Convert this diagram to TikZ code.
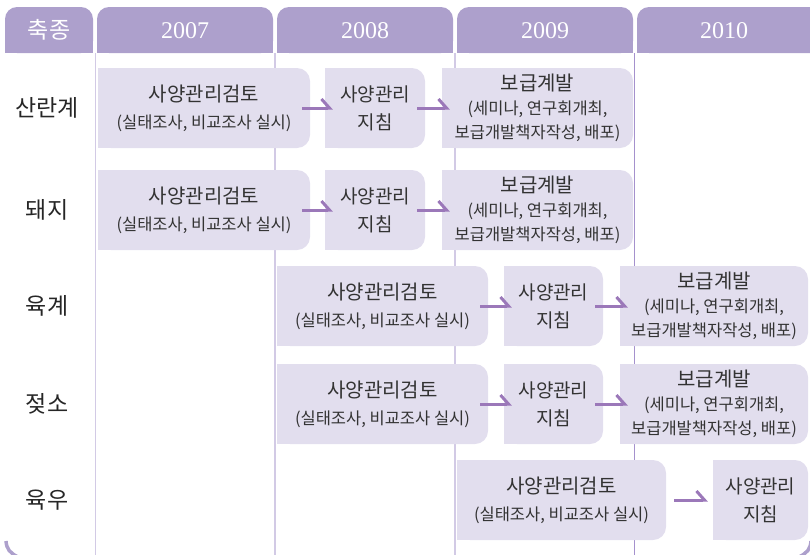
\documentclass[tikz,border=0pt]{standalone}
\usepackage{fontspec}
\setmainfont{Liberation Serif}
\newfontfamily\kr{Noto Sans CJK KR}
\usetikzlibrary{arrows.meta}
\definecolor{hdr}{HTML}{ADA0CC}
\definecolor{boxc}{HTML}{E2DEEE}
\definecolor{lline}{HTML}{D2CAE5}
\definecolor{dline}{HTML}{A591CD}
\definecolor{arr}{HTML}{9B78B9}
\definecolor{txt}{HTML}{333333}
\pgfdeclarelayer{bg}
\pgfsetlayers{bg,main}
\begin{document}
\begin{tikzpicture}[x=1pt,y=-1pt,
  tabfill/.style={fill=hdr, rounded corners=12pt},
  hd/.style={text=white, inner sep=0pt},
  yr/.style={hd, font=\fontsize{24}{24}\selectfont},
  rowlab/.style={text=black!85, font=\kr\fontsize{23}{23}\selectfont, inner sep=0pt},
  bx/.style={fill=boxc, rounded corners=13pt, minimum height=80pt, inner sep=0pt, text=txt, align=center},
  bxa/.style={bx, font=\kr\fontsize{16.5}{27}\selectfont},
  bxb/.style={bx, font=\kr\fontsize{19}{28}\selectfont},
  bxc/.style={bx, font=\kr\fontsize{16.5}{24}\selectfont},
  harp/.style={draw=arr, line width=3pt, -{Straight Barb[left, length=8pt, width=18pt]}, shorten <=-8pt, shorten >=-8pt}
]
\useasboundingbox (0,0) rectangle (810,554);
% header tabs
\foreach \a/\b in {5/93, 97/273, 277/453, 457/633, 637/840}{
  \fill[tabfill] (\a,7) rectangle (\b,53);
  \fill[hdr] (\a,30) rectangle (\b,53);
}
\node[hd, font=\kr\fontsize{23}{23}\selectfont] (h0) at (49,30) {축종};
\node[yr] (h1) at (185,31) {2007};
\node[yr] (h2) at (365,31) {2008};
\node[yr] (h3) at (545,31) {2009};
\node[yr] (h4) at (724,31) {2010};
% grid lines
\begin{pgfonlayer}{bg}
\foreach \x in {95.5, 275, 455}{ \draw[lline, line width=1.4pt] (\x,53) -- (\x,556); }
\draw[dline, line width=1.8pt] (634.5,53) -- (634.5,556);
\end{pgfonlayer}
% row labels
\node[rowlab] (r1) at (47,108) {산란계};
\node[rowlab] (r2) at (47,210) {돼지};
\node[rowlab] (r3) at (47,306) {육계};
\node[rowlab] (r4) at (47,404) {젖소};
\node[rowlab] (r5) at (47,500) {육우};
% row 1
\node[bxa, minimum width=212pt] (a1) at (204,108) {{\fontsize{20}{20}\selectfont 사양관리검토}\\(실태조사, 비교조사 실시)};
\node[bxb, minimum width=100pt] (b1) at (375,108) {사양관리\\지침};
\node[bxc, minimum width=191pt] (c1) at (537.5,108) {{\fontsize{20}{20}\selectfont 보급계발}\\(세미나, 연구회개최,\\보급개발책자작성, 배포)};
% row 2
\node[bxa, minimum width=212pt] (a2) at (204,210) {{\fontsize{20}{20}\selectfont 사양관리검토}\\(실태조사, 비교조사 실시)};
\node[bxb, minimum width=100pt] (b2) at (375,210) {사양관리\\지침};
\node[bxc, minimum width=191pt] (c2) at (537.5,210) {{\fontsize{20}{20}\selectfont 보급계발}\\(세미나, 연구회개최,\\보급개발책자작성, 배포)};
% row 3
\node[bxa, minimum width=211pt] (a3) at (382.5,306) {{\fontsize{20}{20}\selectfont 사양관리검토}\\(실태조사, 비교조사 실시)};
\node[bxb, minimum width=99pt] (b3) at (553.5,306) {사양관리\\지침};
\node[bxc, minimum width=188pt] (c3) at (714,306) {{\fontsize{20}{20}\selectfont 보급계발}\\(세미나, 연구회개최,\\보급개발책자작성, 배포)};
% row 4
\node[bxa, minimum width=211pt] (a4) at (382.5,404) {{\fontsize{20}{20}\selectfont 사양관리검토}\\(실태조사, 비교조사 실시)};
\node[bxb, minimum width=99pt] (b4) at (553.5,404) {사양관리\\지침};
\node[bxc, minimum width=188pt] (c4) at (714,404) {{\fontsize{20}{20}\selectfont 보급계발}\\(세미나, 연구회개최,\\보급개발책자작성, 배포)};
% row 5
\node[bxa, minimum width=209pt] (a5) at (561.5,500) {{\fontsize{20}{20}\selectfont 사양관리검토}\\(실태조사, 비교조사 실시)};
\node[bxb, minimum width=95pt] (b5) at (760.5,500) {사양관리\\지침};
% square left corners
\begin{pgfonlayer}{bg}
\foreach \n in {a1,b1,c1,a2,b2,c2,a3,b3,c3,a4,b4,c4,a5,b5}{
  \fill[boxc] (\n.north west) rectangle ([xshift=-20pt]\n.south east);
}
\end{pgfonlayer}
% arrows
\foreach \r in {1,2,3,4}{
  \draw[harp] (a\r.east) -- (b\r.west);
  \draw[harp] (b\r.east) -- (c\r.west);
}
\draw[harp, shorten <=8pt, shorten >=5pt] (a5.east) -- (b5.west);
% bottom frame corners
\draw[hdr, line width=3.5pt] (6,541) .. controls (6.5,549) and (10,553) .. (18,557);
\draw[hdr, line width=3.5pt] (811,541) .. controls (810.5,549) and (807,553) .. (799,557);
\end{tikzpicture}
\end{document}
